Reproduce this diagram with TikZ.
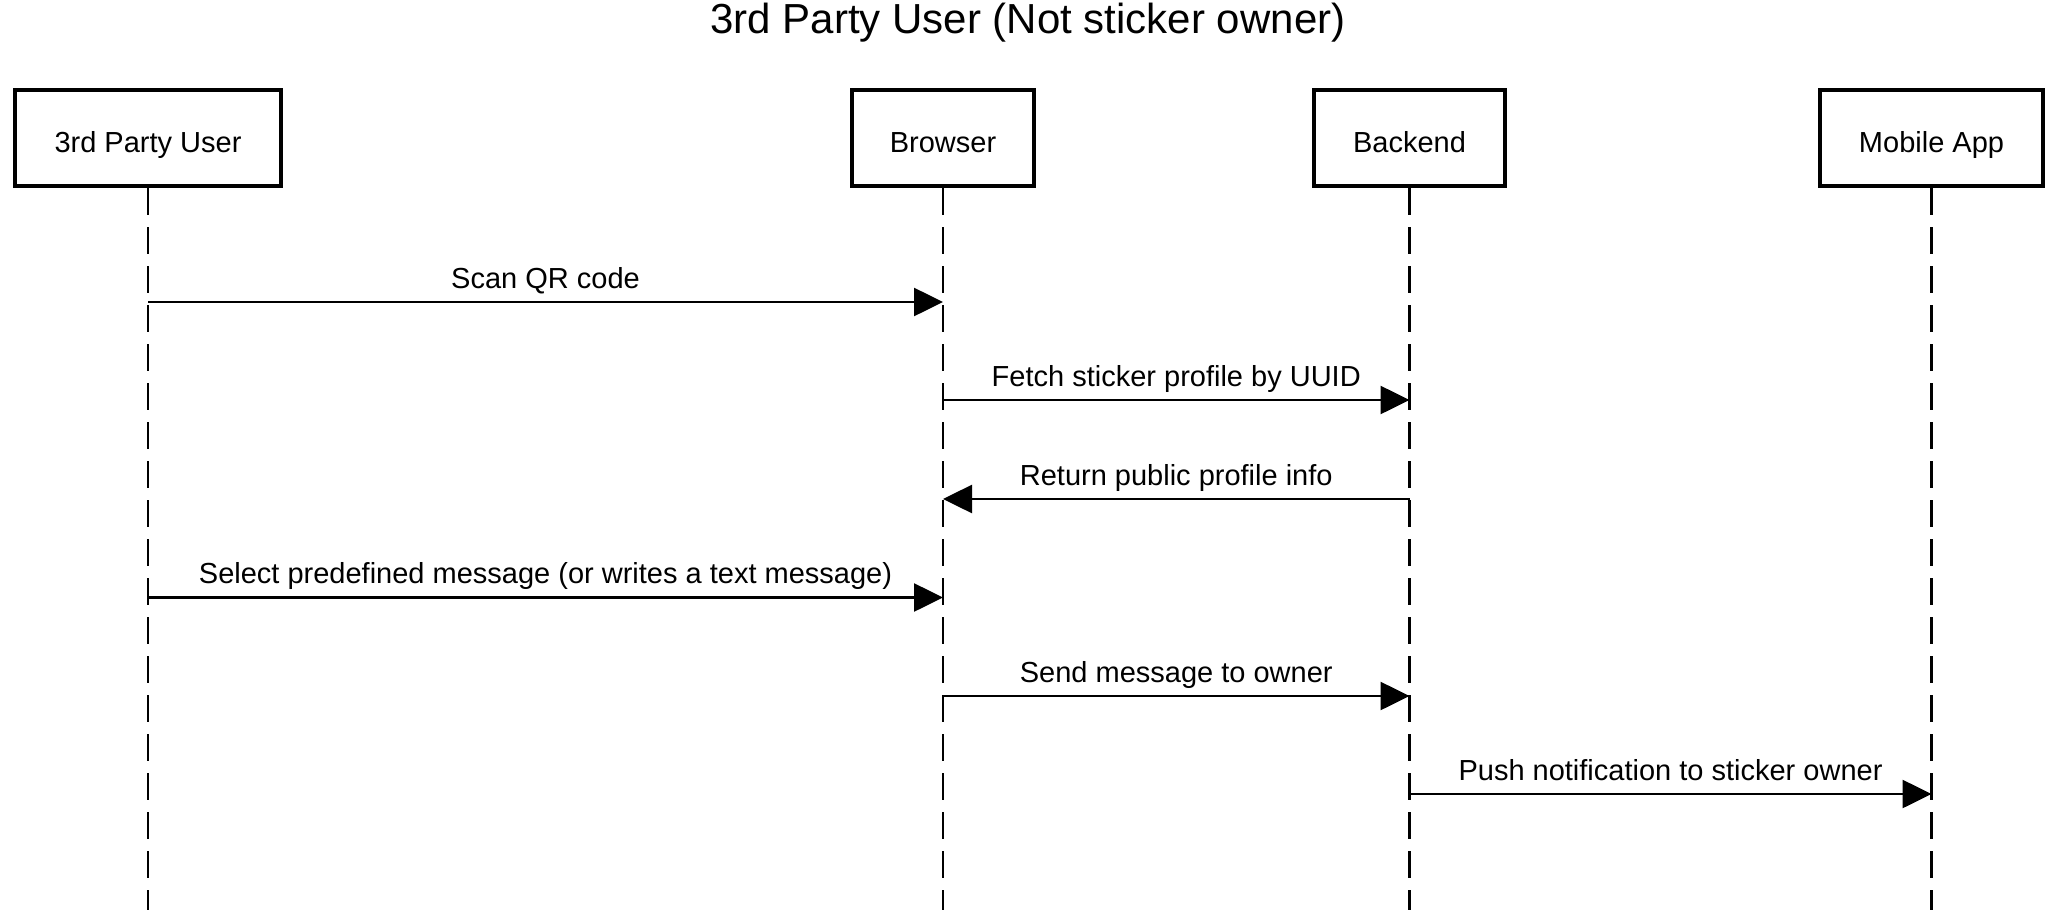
\documentclass[tikz,border=0pt]{standalone}
\usepackage{fontspec}
\setmainfont{Liberation Sans}
\usetikzlibrary{arrows.meta}
\begin{document}
\begin{tikzpicture}[x=0.5pt,y=-0.5pt,
  actor/.style={draw, line width=2pt, rectangle, inner sep=0pt, minimum height=48pt,
    text height=14.5pt, text depth=0pt, font=\fontsize{14.5}{17}\selectfont},
  lifeline/.style={line width=1.25pt, dash pattern=on 13.5pt off 6pt},
  msg/.style={line width=1.3pt, -{Triangle[length=14.5pt,width=14pt]}},
  msglabel/.style={anchor=base, font=\fontsize{14.5}{17}\selectfont, inner sep=0pt, yshift=7pt},
  titlestyle/.style={anchor=base, inner sep=0pt, font=\fontsize{21}{25}\selectfont}]
\useasboundingbox (0,0) rectangle (2056,910);
\fill[white] (0,0) rectangle (2056,910);

\node[titlestyle] (title) at (1028,33) {3rd Party User (Not sticker owner)};

\node[actor, minimum width=133pt]   (user)    at (148,138)    {3rd Party User};
\node[actor, minimum width=91pt]    (browser) at (943,138)    {Browser};
\node[actor, minimum width=95.5pt]  (backend) at (1409.5,138) {Backend};
\node[actor, minimum width=111.5pt] (mobile)  at (1931.5,138) {Mobile App};

\coordinate (bottom) at (0,910);
\foreach \a in {user,browser,backend,mobile}{
  \draw[lifeline] (\a.south) -- (\a |- bottom);
}

\coordinate (y1) at (0,302);
\coordinate (y2) at (0,400);
\coordinate (y3) at (0,499);
\coordinate (y4) at (0,597.5);
\coordinate (y5) at (0,696);
\coordinate (y6) at (0,794);

\draw[msg] (user |- y1) -- (browser |- y1) node[midway, msglabel] {Scan QR code};
\draw[msg] (browser |- y2) -- (backend |- y2) node[midway, msglabel] {Fetch sticker profile by UUID};
\draw[msg] (backend |- y3) -- (browser |- y3) node[midway, msglabel] {Return public profile info};
\draw[msg] (user |- y4) -- (browser |- y4) node[midway, msglabel] {Select predefined message (or writes a text message)};
\draw[msg] (browser |- y5) -- (backend |- y5) node[midway, msglabel] {Send message to owner};
\draw[msg] (backend |- y6) -- (mobile |- y6) node[midway, msglabel] {Push notification to sticker owner};
\end{tikzpicture}
\end{document}
